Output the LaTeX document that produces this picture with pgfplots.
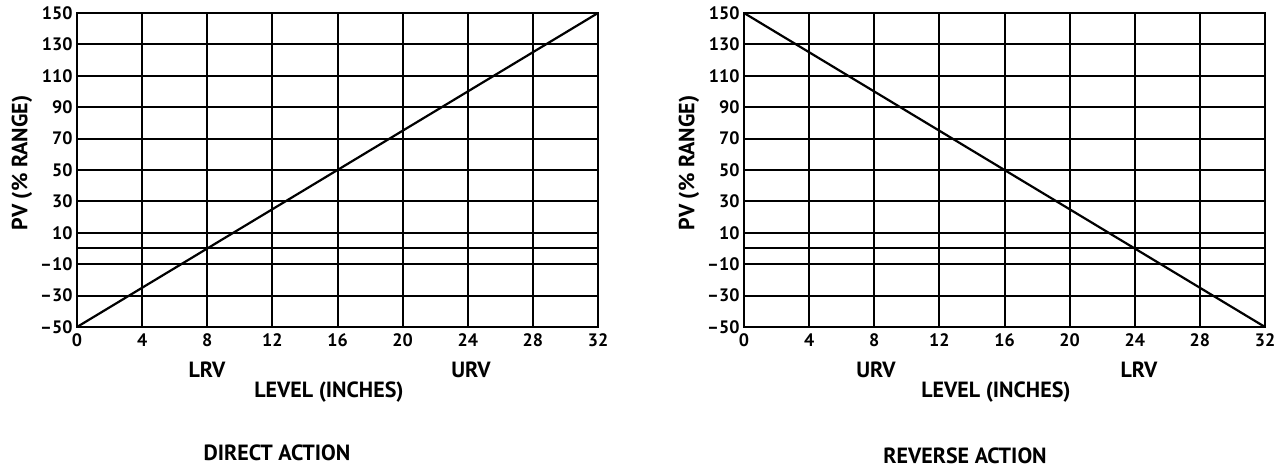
\documentclass[border=0pt]{standalone}
\usepackage{pgfplots}
\pgfplotsset{compat=1.18}
\usepackage{fontspec}
\setmainfont{PT Sans}

\pgfplotsset{
  levelaxis/.style={
    scale only axis,
    width=521pt, height=314pt,
    anchor=south west,
    xmin=0, xmax=32, ymin=-50, ymax=150,
    xtick={0,4,...,32},
    ytick={-50,-30,...,150},
    yticklabels={\textendash50,\textendash30,\textendash10,10,30,50,70,90,110,130,150},
    extra y ticks={0},
    extra y tick labels={},
    extra tick style={grid=major},
    grid=major,
    grid style={black, line width=2pt},
    axis line style={black, line width=2pt},
    major tick length=0pt,
    tick label style={font=\fontsize{18}{20}\selectfont\bfseries},
    xticklabel style={yshift=-3pt},
    yticklabel style={xshift=-1pt},
    /pgf/number format/assume math mode=true,
  },
}

\begin{document}
\begin{tikzpicture}[x=1pt,y=1pt]
\path[use as bounding box] (0,0) rectangle (1284,468);

% direct action
\begin{axis}[levelaxis, at={(77pt,141pt)}]
\addplot[black, line width=2.2pt] coordinates {(0,-50) (32,150)};
\end{axis}

% reverse action
\begin{axis}[levelaxis, at={(744pt,141pt)}]
\addplot[black, line width=2.2pt] coordinates {(0,150) (32,-50)};
\end{axis}

\tikzset{lbl/.style={font=\fontsize{22}{24}\selectfont\bfseries, inner sep=0pt}}

\node[lbl, rotate=90] at (22,305) {PV (\% RANGE)};
\node[lbl, rotate=90] at (689,305) {PV (\% RANGE)};

\node[lbl] at (207,98) {LRV};
\node[lbl] at (471,98) {URV};
\node[lbl] at (329,76) {LEVEL (INCHES)};
\node[lbl] at (277,15) {DIRECT ACTION};

\node[lbl] at (876,98) {URV};
\node[lbl] at (1139,98) {LRV};
\node[lbl] at (996,76) {LEVEL (INCHES)};
\node[lbl] at (965,12) {REVERSE ACTION};
\end{tikzpicture}
\end{document}
